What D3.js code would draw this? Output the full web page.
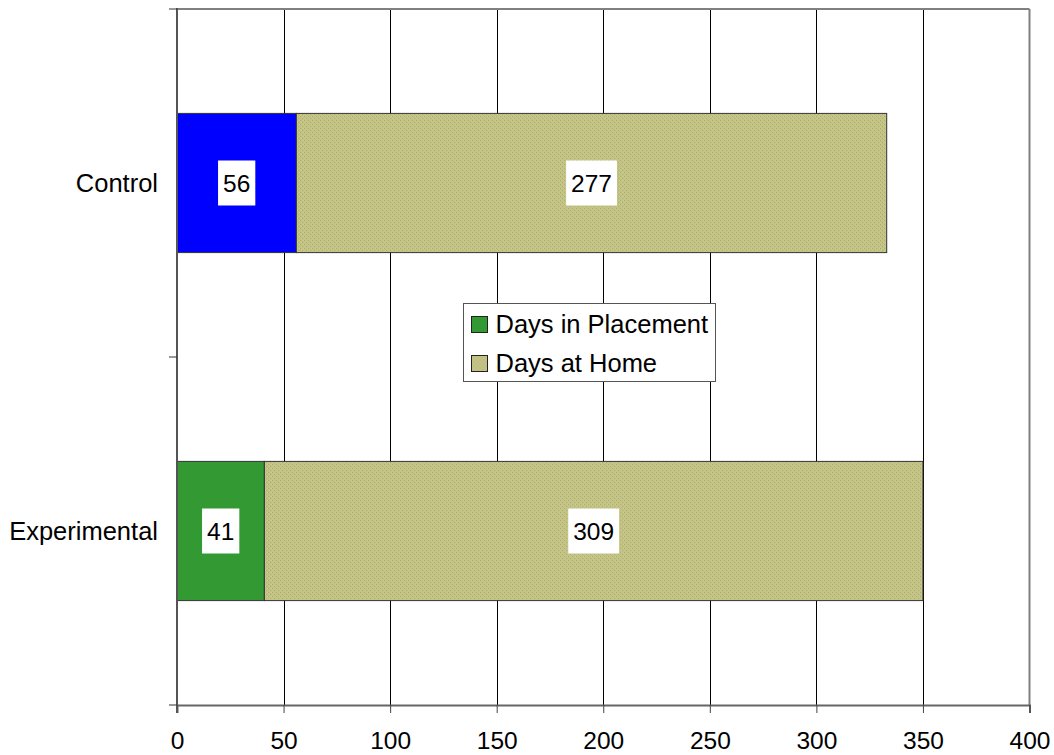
<!DOCTYPE html>
<html>
<head>
<meta charset="utf-8">
<script src="https://cdn.jsdelivr.net/npm/d3@7"></script>
<style>
  html, body { margin: 0; padding: 0; background: #fff; }
  svg { display: block; font-family: "Liberation Sans", Arial, sans-serif; }
</style>
</head>
<body>
<svg id="chart" width="1054" height="755"></svg>
<script>
// Average days per group, split by where the child stayed
const groups = ["Control", "Experimental"];
const seriesNames = ["Days in Placement", "Days at Home"];
const daysInPlacement = [56, 41];
const daysAtHome = [277, 309];
const placementColors = ["#0000ff", "#339933"];
const xTicks = [0, 50, 100, 150, 200, 250, 300, 350, 400];

const svg = d3.select("#chart");
const margin = { left: 177, right: 1029.5, top: 9, bottom: 705 };

const x = d3.scaleLinear().domain([0, 400]).range([margin.left, margin.right]);
const y = d3.scaleBand().domain(groups).range([margin.top, margin.bottom])
  .paddingInner(0.6).paddingOuter(0.3);

// Dotted olive fill for the home segment
const defs = svg.append("defs");
const pat = defs.append("pattern").attr("id", "homeTex")
  .attr("patternUnits", "userSpaceOnUse").attr("width", 4).attr("height", 4);
pat.append("rect").attr("width", 4).attr("height", 4).attr("fill", "#c3c386");
pat.append("rect").attr("x", 0).attr("y", 0).attr("width", 1).attr("height", 1).attr("fill", "#acac70");
pat.append("rect").attr("x", 2).attr("y", 2).attr("width", 1).attr("height", 1).attr("fill", "#acac70");
pat.append("rect").attr("x", 1).attr("y", 2).attr("width", 1).attr("height", 1).attr("fill", "#cbcb90");
pat.append("rect").attr("x", 3).attr("y", 0).attr("width", 1).attr("height", 1).attr("fill", "#cbcb90");

// Vertical gridlines
svg.append("g").selectAll("line")
  .data(xTicks.filter(d => d > 0 && d < 400))
  .join("line")
  .attr("x1", d => Math.round(x(d)) + 0.5).attr("x2", d => Math.round(x(d)) + 0.5)
  .attr("y1", margin.top).attr("y2", margin.bottom)
  .attr("stroke", "#000").attr("stroke-width", 1);

// Plot frame (top and right)
svg.append("line").attr("x1", margin.left).attr("x2", margin.right)
  .attr("y1", margin.top).attr("y2", margin.top)
  .attr("stroke", "#808080").attr("stroke-width", 2);
svg.append("line").attr("x1", margin.right).attr("x2", margin.right)
  .attr("y1", margin.top).attr("y2", margin.bottom)
  .attr("stroke", "#808080").attr("stroke-width", 2);

// Stacked bars
const rows = groups.map((g, i) => ({
  group: g, placement: daysInPlacement[i], home: daysAtHome[i], color: placementColors[i]
}));

const bars = svg.append("g");
rows.forEach(r => {
  const y0 = y(r.group), h = y.bandwidth();
  bars.append("rect")
    .attr("x", x(0)).attr("y", y0)
    .attr("width", x(r.placement) - x(0)).attr("height", h)
    .attr("fill", r.color).attr("stroke", "#333").attr("stroke-width", 1);
  bars.append("rect")
    .attr("x", x(r.placement)).attr("y", y0)
    .attr("width", x(r.placement + r.home) - x(r.placement)).attr("height", h)
    .attr("fill", "url(#homeTex)").attr("stroke", "#333").attr("stroke-width", 1);
});

// Value labels on white boxes
function valueLabel(cx, cy, value) {
  const g = svg.append("g");
  const t = g.append("text")
    .attr("x", cx).attr("y", cy).attr("dy", "0.35em")
    .attr("text-anchor", "middle").attr("font-size", 24.5).attr("fill", "#000")
    .text(value);
  const bb = t.node().getBBox();
  g.insert("rect", "text")
    .attr("x", bb.x - 5).attr("y", cy - 22.5)
    .attr("width", bb.width + 10).attr("height", 45)
    .attr("fill", "#fff");
}
rows.forEach(r => {
  const cy = y(r.group) + y.bandwidth() / 2;
  valueLabel((x(0) + x(r.placement)) / 2, cy, r.placement);
  valueLabel((x(r.placement) + x(r.placement + r.home)) / 2, cy, r.home);
});

// X axis
const xAxis = svg.append("g")
  .attr("transform", `translate(0,${margin.bottom})`)
  .call(d3.axisBottom(x).tickValues(xTicks).tickSize(8).tickPadding(19));
xAxis.select(".domain").attr("stroke", "#666").attr("stroke-width", 2);
xAxis.selectAll(".tick line").attr("stroke", "#444");
xAxis.selectAll(".tick text").attr("font-size", 24.5).attr("fill", "#000")
  .attr("font-family", "Liberation Sans, Arial, sans-serif");

// Y axis: category labels with boundary ticks
const yAxis = svg.append("g").attr("transform", `translate(${margin.left},0)`);
yAxis.append("line").attr("x1", 0).attr("x2", 0)
  .attr("y1", margin.top - 1).attr("y2", margin.bottom + 8)
  .attr("stroke", "#555").attr("stroke-width", 2);
const bounds = [margin.top, (y("Control") + y.bandwidth() + y("Experimental")) / 2, margin.bottom];
yAxis.selectAll("line.tk").data(bounds).join("line").attr("class", "tk")
  .attr("x1", -8).attr("x2", 0).attr("y1", d => d).attr("y2", d => d)
  .attr("stroke", "#333").attr("stroke-width", 1);
yAxis.selectAll("text").data(groups).join("text")
  .attr("x", -19).attr("y", d => y(d) + y.bandwidth() / 2).attr("dy", "0.35em")
  .attr("text-anchor", "end").attr("font-size", 25.5).attr("fill", "#000")
  .text(d => d);

// Legend
const legend = svg.append("g").attr("transform", "translate(463.5,303.5)");
legend.append("rect").attr("width", 252).attr("height", 78)
  .attr("fill", "#fff").attr("stroke", "#555").attr("stroke-width", 1);
const legendFills = [placementColors[1], "url(#homeTex)"];
seriesNames.forEach((name, i) => {
  const cy = 21 + i * 39;
  legend.append("rect").attr("x", 8).attr("y", cy - 8).attr("width", 16).attr("height", 16)
    .attr("fill", legendFills[i]).attr("stroke", "#222").attr("stroke-width", 1);
  legend.append("text").attr("x", 32).attr("y", cy).attr("dy", "0.35em")
    .attr("font-size", 25.5).attr("fill", "#000").text(name);
});
</script>
</body>
</html>
